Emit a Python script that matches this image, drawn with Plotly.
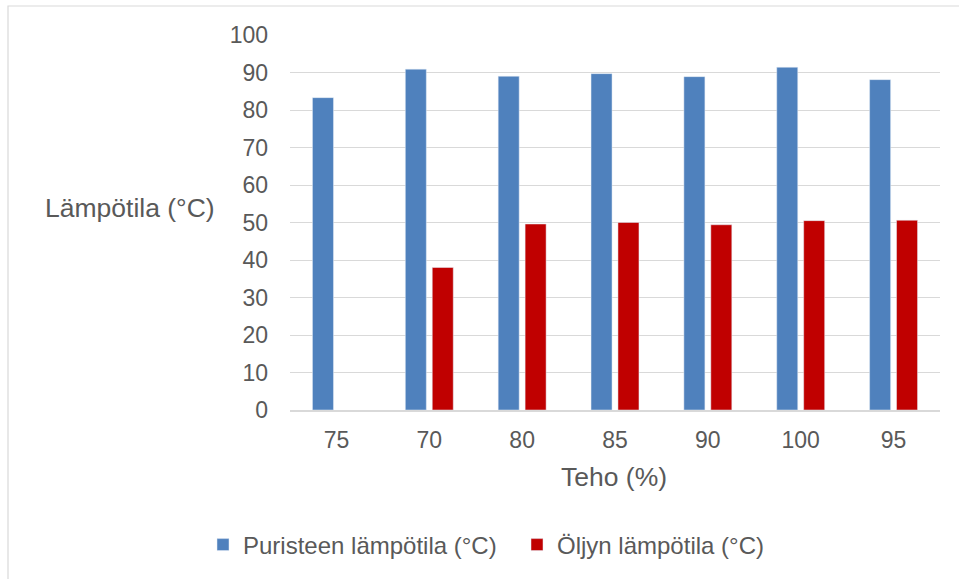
import plotly.graph_objects as go

# Power settings (in the order they were run) and measured temperatures
teho = ["75", "70", "80", "85", "90", "100", "95"]
puristeen_lampotila = [83.3, 90.9, 89.0, 89.7, 88.9, 91.4, 88.1]
oljyn_lampotila = [None, 38.0, 49.6, 50.0, 49.4, 50.5, 50.6]

y_ticks = list(range(0, 101, 10))

W, H = 959, 579
L, R, T, B = 290, 19, 35, 169
plot_w = W - L - R
plot_h = H - T - B

TEXT = "#595959"
GRID = "#D9D9D9"
FONT = "Liberation Sans, Arial, sans-serif"


def px_x(px):
    return (px - L) / plot_w


def px_y(py):
    return (H - B - py) / plot_h


fig = go.Figure()
fig.add_trace(go.Bar(
    x=teho, y=puristeen_lampotila, name="Puristeen lämpötila (°C)",
    marker=dict(color="#4F81BD"),
))
fig.add_trace(go.Bar(
    x=teho, y=oljyn_lampotila, name="Öljyn lämpötila (°C)",
    marker=dict(color="#C00000"),
))

fig.update_layout(
    width=W, height=H,
    margin=dict(l=L, r=R, t=T, b=B, pad=0),
    paper_bgcolor="white", plot_bgcolor="white",
    barmode="group", bargap=0.42, bargroupgap=0.22,
    font=dict(family=FONT, color=TEXT, size=22),
    showlegend=True,
    legend=dict(
        orientation="h", x=px_x(203), xanchor="left",
        y=px_y(545), yanchor="middle",
        font=dict(size=24, color=TEXT),
        entrywidth=269, entrywidthmode="pixels",
        bgcolor="rgba(0,0,0,0)",
    ),
    xaxis=dict(
        type="category", showgrid=False, zeroline=False,
        showline=True, linecolor=GRID, linewidth=1.5,
        ticks="", ticklabelstandoff=9,
        tickfont=dict(size=23, color=TEXT),
    ),
    yaxis=dict(
        range=[0, 100], tickvals=y_ticks, showgrid=True,
        gridcolor=GRID, gridwidth=1.3, zeroline=False, showline=False,
        ticks="", ticklabelstandoff=21,
        tickfont=dict(size=23, color=TEXT),
    ),
    annotations=[
        dict(text="Lämpötila (°C)", xref="paper", yref="paper",
             x=px_x(130), y=px_y(208), xanchor="center", yanchor="middle",
             showarrow=False, font=dict(size=26.5, color=TEXT)),
        dict(text="Teho (%)", xref="paper", yref="paper",
             x=px_x(614), y=px_y(477), xanchor="center", yanchor="middle",
             showarrow=False, font=dict(size=26.5, color=TEXT)),
    ],
    shapes=[
        dict(type="rect", xref="paper", yref="paper",
             x0=px_x(8), x1=px_x(965), y0=px_y(585), y1=px_y(6),
             line=dict(color=GRID, width=1.2), fillcolor="rgba(0,0,0,0)",
             layer="below"),
    ],
)

fig.write_html("out.html")
